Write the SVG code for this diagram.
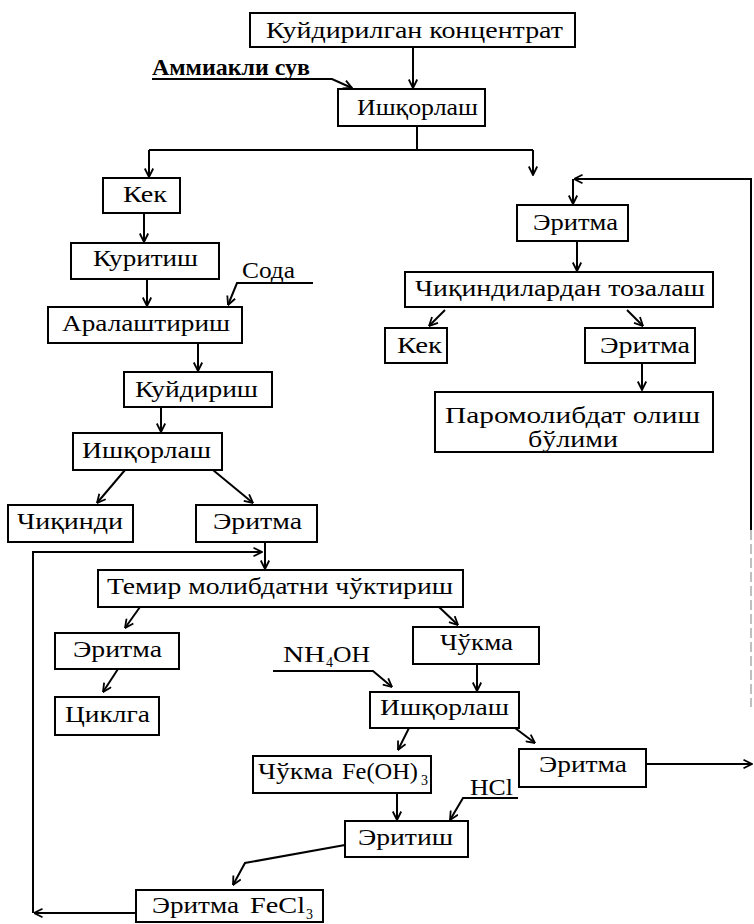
<svg xmlns="http://www.w3.org/2000/svg" width="754" height="924" viewBox="0 0 754 924">
<style>
rect{fill:#fff;stroke:#000;stroke-width:2}
text{font-family:"Liberation Serif","DejaVu Serif",serif;font-size:24px;fill:#000}
.b{font-weight:bold}
.c{fill:none;stroke:#000;stroke-width:2}
.s{font-size:14px}
</style>
<defs>
<marker id="a" viewBox="0 0 10 10" refX="9.5" refY="5" markerWidth="10" markerHeight="10" orient="auto" markerUnits="userSpaceOnUse">
<path d="M1,0.8 L9.5,5 L1,9.2" fill="none" stroke="#000" stroke-width="1.8"/>
</marker>
</defs>
<rect width="754" height="924" style="fill:#fff;stroke:none"/>
<g id="connectors">
<path class="c" d="M413,47 V88" marker-end="url(#a)"/>
<path class="c" d="M152,79 H332 L352,88" marker-end="url(#a)"/>
<path class="c" d="M417,126 V150"/>
<path class="c" d="M149,150 H533"/>
<path class="c" d="M149,150 V177" marker-end="url(#a)"/>
<path class="c" d="M533,150 V175" marker-end="url(#a)"/>
<path class="c" d="M144,213 V242" marker-end="url(#a)"/>
<path class="c" d="M147,279 V306" marker-end="url(#a)"/>
<path class="c" d="M313,283 H237 L228,305" marker-end="url(#a)"/>
<path class="c" d="M198,343 V371" marker-end="url(#a)"/>
<path class="c" d="M161,407 V432" marker-end="url(#a)"/>
<path class="c" d="M125,470 L97,503" marker-end="url(#a)"/>
<path class="c" d="M213,470 L253,503" marker-end="url(#a)"/>
<path class="c" d="M265,542 V569" marker-end="url(#a)"/>
<path class="c" d="M33,913 V552 H262" marker-end="url(#a)"/>
<path class="c" d="M136,913 H34" marker-end="url(#a)"/>
<path class="c" d="M140,607 L125,628" marker-end="url(#a)"/>
<path class="c" d="M118,669 L103,692" marker-end="url(#a)"/>
<path class="c" d="M439,607 L458,625" marker-end="url(#a)"/>
<path class="c" d="M477,664 V691" marker-end="url(#a)"/>
<path class="c" d="M273,671 H373 L392,687" marker-end="url(#a)"/>
<path class="c" d="M409,728 L398,750" marker-end="url(#a)"/>
<path class="c" d="M515,728 L535,743" marker-end="url(#a)"/>
<path class="c" d="M646,764 H752" marker-end="url(#a)"/>
<path class="c" d="M518,798 H463 L450,820" marker-end="url(#a)"/>
<path class="c" d="M397,793 V820" marker-end="url(#a)"/>
<path class="c" d="M345,845 L245,863 L233,885" marker-end="url(#a)"/>
<path class="c" d="M751,530 V179 H574" marker-end="url(#a)"/>
<path d="M751,530 V707" fill="none" stroke="#aaa" stroke-width="1.5" stroke-dasharray="10 4"/>
<path class="c" d="M573,179 V204" marker-end="url(#a)"/>
<path class="c" d="M577,241 V271" marker-end="url(#a)"/>
<path class="c" d="M445,310 L429,326" marker-end="url(#a)"/>
<path class="c" d="M627,310 L643,326" marker-end="url(#a)"/>
<path class="c" d="M642,363 V390" marker-end="url(#a)"/>
</g>
<g id="n-konc"><rect x="250" y="13" width="325" height="34"/><text x="266" y="38" textLength="297" lengthAdjust="spacingAndGlyphs">Куйдирилган концентрат</text></g>
<g id="l-ammiak"><text class="b" x="152" y="75" textLength="158" lengthAdjust="spacingAndGlyphs">Аммиакли сув</text></g>
<g id="n-ishq1"><rect x="338" y="89" width="147" height="37"/><text x="357" y="115" textLength="121" lengthAdjust="spacingAndGlyphs">Ишқорлаш</text></g>
<g id="n-kek1"><rect x="103" y="178" width="77" height="35"/><text x="123" y="202" textLength="44" lengthAdjust="spacingAndGlyphs">Кек</text></g>
<g id="n-kurit"><rect x="71" y="243" width="148" height="36"/><text x="93" y="266" textLength="105" lengthAdjust="spacingAndGlyphs">Куритиш</text></g>
<g id="l-soda"><text x="242" y="278" textLength="53" lengthAdjust="spacingAndGlyphs">Сода</text></g>
<g id="n-aral"><rect x="48" y="307" width="194" height="36"/><text x="62" y="331" textLength="168" lengthAdjust="spacingAndGlyphs">Аралаштириш</text></g>
<g id="n-kuyd"><rect x="124" y="372" width="148" height="35"/><text x="135" y="397" textLength="123" lengthAdjust="spacingAndGlyphs">Куйдириш</text></g>
<g id="n-ishq2"><rect x="73" y="433" width="149" height="37"/><text x="82" y="458" textLength="129" lengthAdjust="spacingAndGlyphs">Ишқорлаш</text></g>
<g id="n-chiq"><rect x="8" y="505" width="125" height="37"/><text x="17" y="529" textLength="106" lengthAdjust="spacingAndGlyphs">Чиқинди</text></g>
<g id="n-erit2"><rect x="196" y="505" width="121" height="37"/><text x="213" y="529" textLength="89" lengthAdjust="spacingAndGlyphs">Эритма</text></g>
<g id="n-temir"><rect x="98" y="570" width="365" height="37"/><text x="107" y="594" textLength="346" lengthAdjust="spacingAndGlyphs">Темир молибдатни чўктириш</text></g>
<g id="n-erit3"><rect x="55" y="633" width="124" height="36"/><text x="73" y="657" textLength="89" lengthAdjust="spacingAndGlyphs">Эритма</text></g>
<g id="n-tsikl"><rect x="55" y="697" width="104" height="38"/><text x="65" y="722" textLength="85" lengthAdjust="spacingAndGlyphs">Циклга</text></g>
<g id="n-chukma"><rect x="413" y="627" width="126" height="37"/><text x="440" y="650" textLength="73" lengthAdjust="spacingAndGlyphs">Чўкма</text></g>
<g id="l-nh4oh"><text x="283" y="662" textLength="42" lengthAdjust="spacingAndGlyphs">NH</text><text class="s" x="326" y="667">4</text><text x="333" y="662" textLength="37" lengthAdjust="spacingAndGlyphs">OH</text></g>
<g id="n-ishq3"><rect x="370" y="692" width="149" height="36"/><text x="380" y="715" textLength="129" lengthAdjust="spacingAndGlyphs">Ишқорлаш</text></g>
<g id="n-feoh"><rect x="253" y="756" width="178" height="37"/><text x="258" y="779" textLength="75" lengthAdjust="spacingAndGlyphs">Чўкма</text><text x="342" y="779" textLength="76" lengthAdjust="spacingAndGlyphs">Fe(OH)</text><text class="s" x="421" y="785">3</text></g>
<g id="n-erit4"><rect x="519" y="749" width="127" height="38"/><text x="539" y="772" textLength="88" lengthAdjust="spacingAndGlyphs">Эритма</text></g>
<g id="l-hcl"><text x="470" y="795" textLength="43" lengthAdjust="spacingAndGlyphs">HCl</text></g>
<g id="n-eritish"><rect x="345" y="821" width="123" height="36"/><text x="358" y="845" textLength="95" lengthAdjust="spacingAndGlyphs">Эритиш</text></g>
<g id="n-fecl3"><rect x="136" y="890" width="187" height="32"/><text x="152" y="913" textLength="87" lengthAdjust="spacingAndGlyphs">Эритма</text><text x="250" y="913" textLength="55" lengthAdjust="spacingAndGlyphs">FeCl</text><text class="s" x="306" y="919">3</text></g>
<g id="n-eritr1"><rect x="517" y="205" width="111" height="36"/><text x="533" y="230" textLength="85" lengthAdjust="spacingAndGlyphs">Эритма</text></g>
<g id="n-tozal"><rect x="405" y="272" width="308" height="35"/><text x="415" y="296" textLength="290" lengthAdjust="spacingAndGlyphs">Чиқиндилардан тозалаш</text></g>
<g id="n-kek2"><rect x="385" y="328" width="62" height="35"/><text x="397" y="353" textLength="45" lengthAdjust="spacingAndGlyphs">Кек</text></g>
<g id="n-eritr2"><rect x="585" y="328" width="110" height="35"/><text x="600" y="353" textLength="90" lengthAdjust="spacingAndGlyphs">Эритма</text></g>
<g id="n-parom"><rect x="435" y="392" width="278" height="60"/><text x="445" y="423" textLength="255" lengthAdjust="spacingAndGlyphs">Паромолибдат олиш</text><text x="528" y="447" textLength="90" lengthAdjust="spacingAndGlyphs">бўлими</text></g>
</svg>
